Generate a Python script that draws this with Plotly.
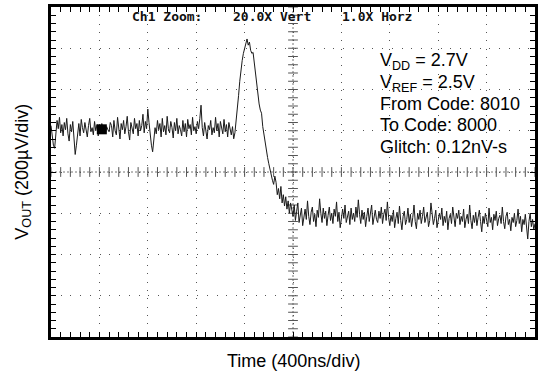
import numpy as np
import plotly.graph_objects as go

# ---------------- data (read from the scope capture) ----------------
sample_step_ns = 10  # one sample every 10 ns, 0 .. 4000 ns
vout_uV = [
    # pre-glitch baseline (~ +1 div)
    225, 180, 130, 115, 170, 250, 210, 265, 190, 230,
    175, 240, 205, 260, 185, 150, 230, 195, 245, 160,
    85, 130, 200, 235, 175, 255, 215, 190, 240, 205,
    170, 225, 260, 195, 215, 180, 245, 200, 230, 175,
    210, 190, 235, 200, 215, 185, 220, 205, 195, 240,
    225, 170, 250, 200, 180, 265, 215, 160, 235, 205,
    250, 185, 220, 270, 195, 155, 240, 215, 185, 260,
    210, 235, 175, 250, 200, 225, 280, 190, 245, 210,
    305, 240, 175, 130, 98, 150, 215, 185, 250, 205,
    235, 170, 260, 195, 225, 180, 270, 210, 190, 245,
    215, 165, 240, 200, 260, 185, 225, 205, 175, 250,
    195, 235, 170, 255, 210, 230, 180, 265, 200, 220,
    185, 245, 210, 260, 324, 215, 175, 240, 195, 160,
    225, 205, 250, 180, 215, 190, 265, 200, 235, 170,
    245, 210, 185, 255, 195, 230, 170, 240, 205, 180,
    220, 161, 190,
    # glitch
    240, 300, 370, 440, 500, 540, 575, 600, 625, 645,
    615, 630, 590, 575, 580, 530, 470, 410, 370, 330,
    300, 285, 220, 180, 130, 110, 70, 40, 10, -10,
    -40, -60, -20, -50, -110, -80, -130, -70, -150, -110,
    -165, -120, -180, -140, -200, -150, -185, -215,
    # post-glitch baseline (~ -1 div)
    -160, -235, -190, -150, -245, -200, -175, -260, -210, -180,
    -230, -140, -215, -255, -195, -170, -240, -205, -265, -185,
    -220, -130, -200, -245, -175, -225, -190, -260, -210, -170,
    -235, -200, -250, -180, -215, -145, -240, -195, -270, -205,
    -180, -225, -160, -245, -210, -190, -255, -175, -230, -200,
    -240, -170, -220, -135, -205, -250, -185, -230, -195, -265,
    -215, -175, -240, -200, -160, -255, -210, -185, -230, -245,
    -190, -225, -170, -250, -205, -180, -235, -145, -220, -260,
    -210, -240, -185, -270, -225, -195, -250, -165, -235, -280,
    -215, -190, -255, -230, -175, -245, -205, -265, -220, -160,
    -240, -275, -200, -230, -185, -250, -215, -170, -245, -225,
    -195, -265, -235, -150, -210, -255, -225, -185, -270, -240,
    -200, -230, -175, -260, -215, -245, -190, -280, -225, -205,
    -250, -170, -235, -265, -200, -225, -185, -255, -215, -240,
    -180, -270, -230, -205, -250, -160, -235, -275, -210, -245,
    -195, -260, -220, -185, -240, -290, -215, -250, -200, -230,
    -265, -175, -245, -220, -280, -205, -235, -190, -260, -225,
    -210, -250, -170, -240, -275, -215, -195, -255, -230, -285,
    -220, -245, -200, -265, -235, -180, -250, -215, -290, -230,
    -255, -205, -270, -325, -240, -200, -265, -230, -280, -250,
]
time_ns = [i * sample_step_ns for i in range(len(vout_uV))]

marker_time_ns = [420]
marker_level_uV = [207]

x_range = [0, 4000]      # 10 div x 400 ns
y_range = [-800, 800]    # 8 div x 200 uV
x_div, y_div = 400, 200
x_minor, y_minor = 80, 40

header_texts = ["Ch1 Zoom:", "20.0X Vert", "1.0X Horz"]
info_texts = ["V<sub>DD</sub> = 2.7V", "V<sub>REF</sub> = 2.5V",
              "From Code: 8010", "To Code: 8000", "Glitch: 0.12nV-s"]
x_title = "Time (400ns/div)"
y_title = "V<sub>OUT</sub> (200µV/div)"

# ---------------- layout geometry ----------------
W, H = 542, 375
L, R, T, B = 51, 4, 4, 38
PW, PH = W - L - R, H - T - B


def px(xp):
    return (xp - L) / PW


def py(yp):
    return (H - B - yp) / PH


font_main = "Liberation Sans, Arial, Helvetica, sans-serif"
font_scope = "DejaVu Sans Mono, monospace"

fig = go.Figure()

# center-cross minor ticks
minor_y_vals = np.arange(y_range[0], y_range[1] + 1, y_minor)
minor_x_vals = np.arange(x_range[0], x_range[1] + 1, x_minor)
xc = (x_range[0] + x_range[1]) / 2
yc = (y_range[0] + y_range[1]) / 2
fig.add_trace(go.Scatter(
    x=[xc] * len(minor_y_vals), y=minor_y_vals, mode="markers",
    marker=dict(symbol="line-ew", size=7, line=dict(width=1, color="#555")),
    hoverinfo="skip", showlegend=False))
fig.add_trace(go.Scatter(
    x=minor_x_vals, y=[yc] * len(minor_x_vals), mode="markers",
    marker=dict(symbol="line-ns", size=7, line=dict(width=1, color="#555")),
    hoverinfo="skip", showlegend=False))

# the waveform
fig.add_trace(go.Scatter(
    x=time_ns, y=vout_uV, mode="lines",
    line=dict(color="#1a1a1a", width=1),
    showlegend=False))

# channel marker
fig.add_trace(go.Scatter(
    x=marker_time_ns, y=marker_level_uV, mode="markers",
    marker=dict(symbol="square", size=10, color="black"),
    showlegend=False))

# center cross lines
fig.add_shape(type="line", xref="x", yref="paper", x0=xc, x1=xc, y0=0, y1=1,
              line=dict(color="#777", width=1, dash="2px,2px"), layer="below")
fig.add_shape(type="line", xref="paper", yref="y", x0=0, x1=1, y0=yc, y1=yc,
              line=dict(color="#777", width=1, dash="2px,2px"), layer="below")

xgrid_dash = f"1px,{PH / 40 - 1:.3f}px"
ygrid_dash = f"1px,{PW / 50 - 1:.3f}px"

common = dict(showticklabels=False, ticks="inside", ticklen=5, tickcolor="black",
              tickwidth=1, showline=True, linewidth=3, linecolor="black",
              mirror="allticks", zeroline=False, showgrid=True,
              gridcolor="#555", gridwidth=1, fixedrange=True)

fig.update_xaxes(range=x_range, dtick=x_div, tick0=x_range[0], griddash=xgrid_dash,
                 minor=dict(dtick=x_minor, tick0=x_range[0], ticks="inside",
                            ticklen=5, tickcolor="black", showgrid=False),
                 **common)
fig.update_yaxes(range=y_range, dtick=y_div, tick0=y_range[0], griddash=ygrid_dash,
                 minor=dict(dtick=y_minor, tick0=y_range[0], ticks="inside",
                            ticklen=5, tickcolor="black", showgrid=False),
                 **common)

annotations = []
# scope header
for txt, xpos in zip(header_texts, [130, 232, 342]):
    annotations.append(dict(text=txt, x=px(xpos), y=py(14), xref="paper", yref="paper",
                            xanchor="left", yanchor="middle", showarrow=False,
                            font=dict(family=font_scope, size=13, color="#111",
                                      weight="bold")))
# info block
for txt, ypos in zip(info_texts, [59, 81, 101.5, 123, 145]):
    annotations.append(dict(text=txt, x=px(381), y=py(ypos), xref="paper", yref="paper",
                            xanchor="left", yanchor="middle", showarrow=False,
                            borderpad=0,
                            font=dict(family=font_main, size=18, color="black")))
# axis titles
annotations.append(dict(text=x_title, x=px(294.5), y=py(361), xref="paper", yref="paper",
                        xanchor="center", yanchor="middle", showarrow=False,
                        font=dict(family=font_main, size=18, color="black")))
annotations.append(dict(text=y_title, x=px(23), y=py(170), xref="paper", yref="paper",
                        xanchor="center", yanchor="middle", showarrow=False, textangle=-90,
                        font=dict(family=font_main, size=18, color="black")))

fig.update_layout(
    width=W, height=H,
    margin=dict(l=L, r=R, t=T, b=B),
    paper_bgcolor="white", plot_bgcolor="white",
    annotations=annotations,
    showlegend=False,
)

fig.write_html("out.html",
               config={"displayModeBar": False},
               post_script="document.body.style.margin='0';document.body.style.overflow='hidden';")
